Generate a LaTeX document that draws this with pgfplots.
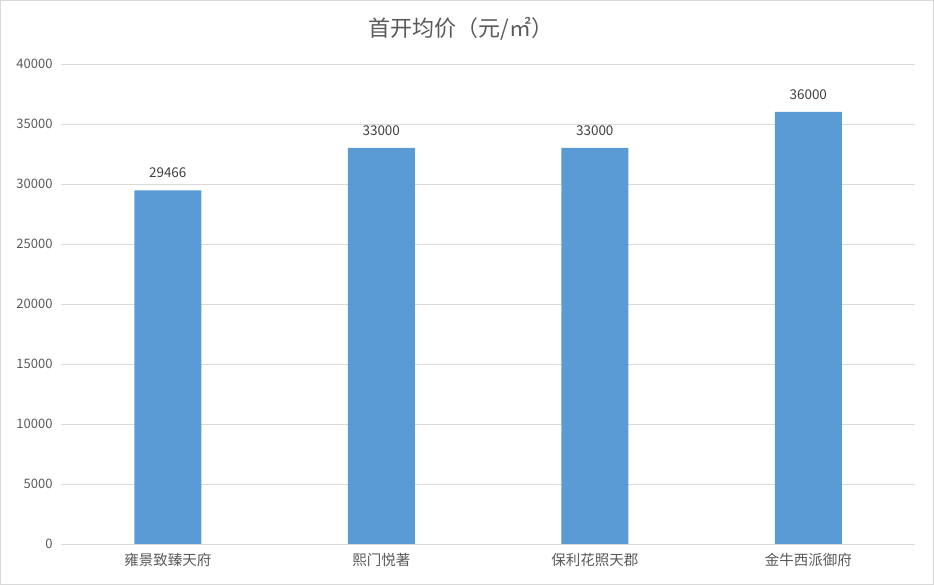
\documentclass[border=0pt]{standalone}
\usepackage{pgfplots}
\pgfplotsset{compat=1.18}
\usepackage{fontspec}
\setmainfont{Noto Sans CJK SC}
\definecolor{barblue}{HTML}{5B9BD5}
\definecolor{gridgray}{HTML}{D9D9D9}
\definecolor{txtgray}{HTML}{595959}
\definecolor{lblgray}{HTML}{404040}
\begin{document}
\begin{tikzpicture}[x=1pt,y=1pt]
\useasboundingbox (0,0) rectangle (934,585);
\draw[gridgray, line width=1pt] (0.5,0.5) rectangle (933.5,584.5);
\node[txtgray, font=\fontsize{22}{26}\selectfont] at (461,556) {首开均价（元/㎡）};
\begin{axis}[
    at={(61pt,41pt)}, anchor=south west,
    scale only axis, width=854pt, height=480pt,
    xmin=-0.5, xmax=3.5, ymin=0, ymax=40000,
    ytick={0,5000,...,40000},
    xtick=data,
    xticklabels={雍景致臻天府,熙门悦著,保利花照天郡,金牛西派御府},
    scaled y ticks=false,
    /pgf/number format/assume math mode=true,
    /pgf/number format/1000 sep={},
    ymajorgrids, grid style={gridgray, line width=0.8pt},
    axis line style={draw=none},
    tick style={draw=none},
    yticklabel style={txtgray, font=\fontsize{13}{15}\selectfont, xshift=-5pt},
    xticklabel style={txtgray, font=\fontsize{14.5}{17}\selectfont, yshift=-6pt},
    nodes near coords,
    every node near coord/.append style={lblgray, font=\fontsize{13.5}{15}\selectfont, yshift=9pt,
      /pgf/number format/fixed, /pgf/number format/1000 sep={}},
]
\addplot[ybar, bar width=67pt, fill=barblue, draw=none] coordinates {(0,29466) (1,33000) (2,33000) (3,36000)};
\draw[gridgray, line width=0.8pt] (axis cs:-0.5,0) -- (axis cs:3.5,0);
\end{axis}
\end{tikzpicture}
\end{document}
